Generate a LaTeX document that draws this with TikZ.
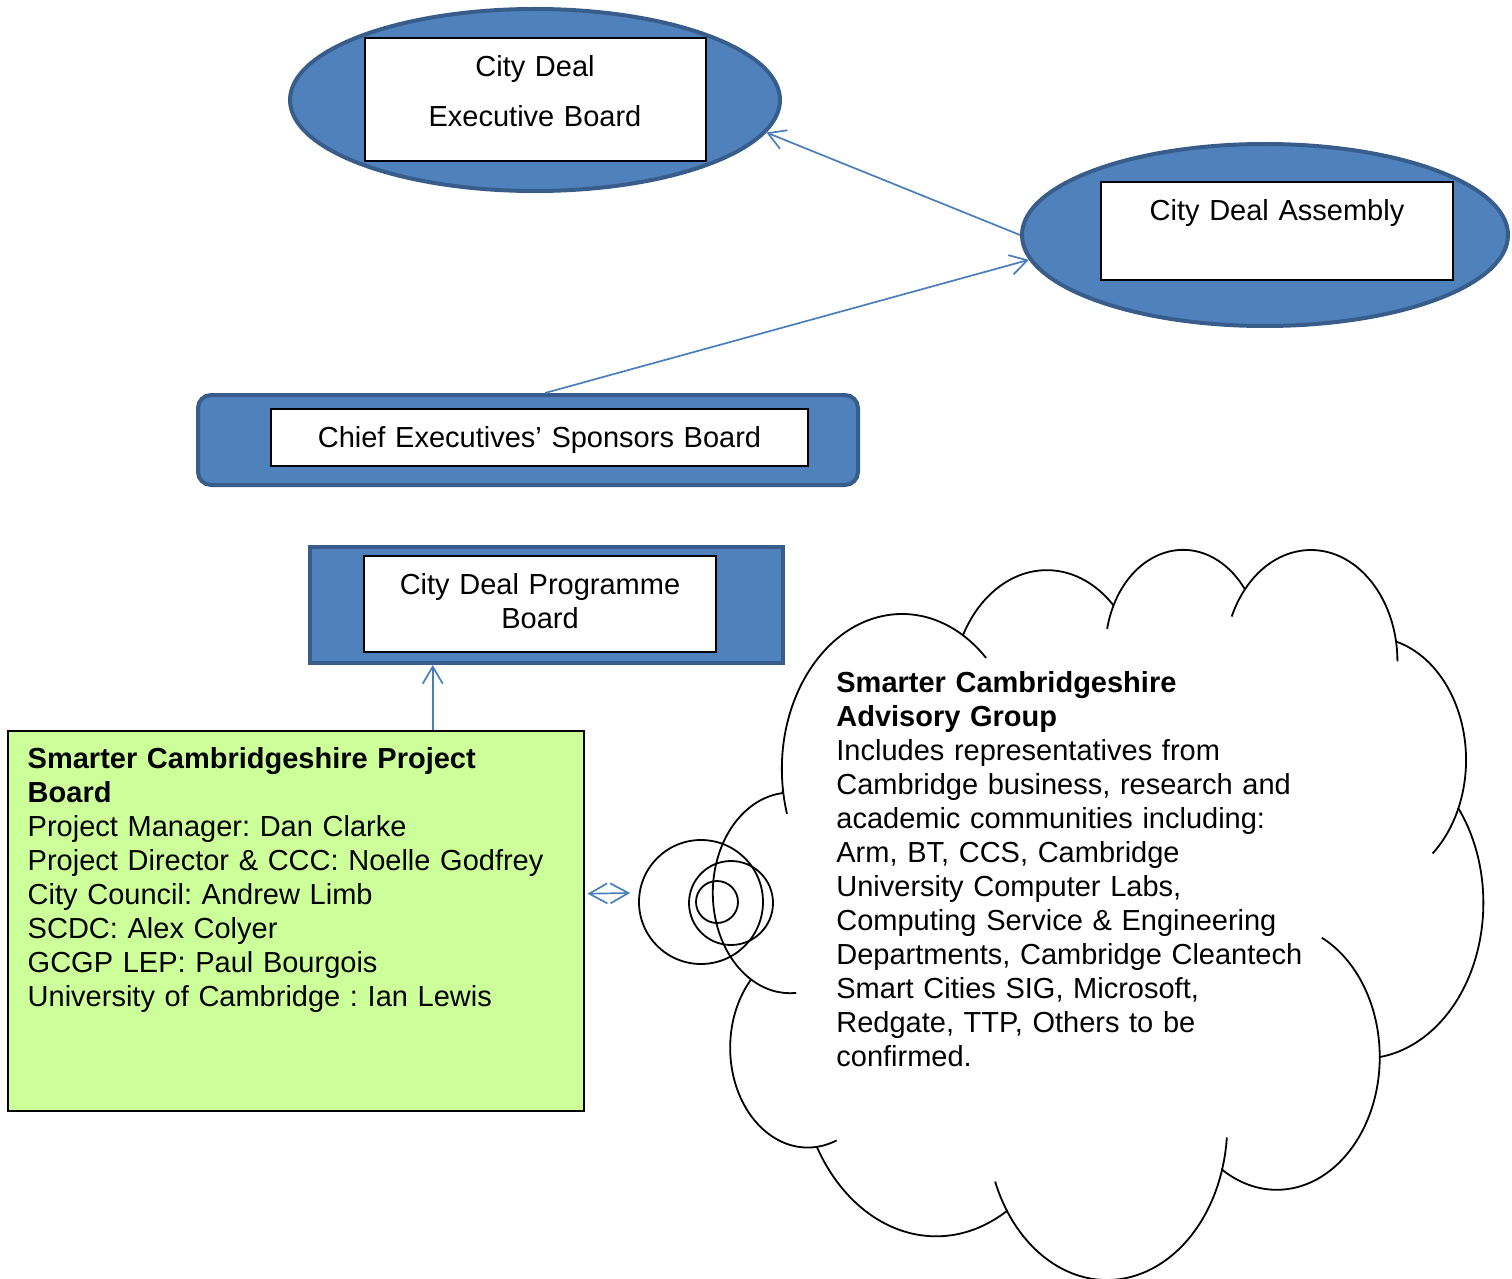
\documentclass[tikz,border=0pt]{standalone}
\usepackage{fontspec}
\setmainfont{Liberation Sans}
\usetikzlibrary{shapes.geometric,arrows.meta,positioning}

\definecolor{boardblue}{RGB}{79,129,189}
\definecolor{boardedge}{RGB}{56,93,138}
\definecolor{linkblue}{RGB}{74,126,187}
\definecolor{projgreen}{RGB}{204,255,153}

\frenchspacing

\begin{document}
\begin{tikzpicture}[x=0.5pt,y=-0.5pt,
  font=\fontsize{14.5}{17}\selectfont,
  declare function={vis(\t,\a,\b)=atan2(sin(\t)/\b,cos(\t)/\a);},
  bluebox/.style={fill=boardblue,draw=boardedge,line width=2pt},
  whitebox/.style={fill=white,draw=black,line width=1pt,inner sep=0pt,align=center},
  link/.style={draw=linkblue,line width=0.85pt,-{Straight Barb[length=8.5pt,width=10pt]}},
  bubble/.style={circle,draw,line width=0.9pt,inner sep=0pt},
  puff/.style={line width=0.9pt},
  lobe/.style n args={4}{x radius=#1,y radius=#2,
    start angle={vis(#3,#1,#2)},
    end angle={vis(#3,#1,#2)+ifthenelse(#4>0,1,-1)*mod(ifthenelse(#4>0,1,-1)*(vis(#3+#4,#1,#2)-vis(#3,#1,#2))+720,360)}}]
  \useasboundingbox (0,0) rectangle (1512,1279);

  % boards
  \node[bluebox,ellipse,minimum width=245pt,minimum height=91pt] (cdeb) at (535,100) {};
  \node[whitebox,text width=170.5pt,text height=19pt,text depth=42.5pt] (cdebbox) at (cdeb)
    {City Deal\\[8pt]Executive Board};

  \node[bluebox,ellipse,minimum width=243pt,minimum height=91pt] (cda) at (1265,235) {};
  \node[whitebox,text width=176pt,text height=19.25pt,text depth=29.75pt] (cdabox) at ([xshift=6pt,yshift=2pt]cda)
    {City Deal Assembly};

  \node[bluebox,rounded corners=6.5pt,minimum width=330pt,minimum height=45pt] (ceosb) at (528,440) {};
  \node[whitebox,text width=268.5pt,text height=19.25pt,text depth=9.25pt] (ceosbbox) at ([xshift=5.75pt,yshift=1.25pt]ceosb)
    {Chief Executives’ Sponsors Board};

  \node[bluebox,minimum width=236.5pt,minimum height=58pt,below=29pt of ceosb,xshift=9.25pt] (cdpb) {};
  \node[whitebox,text width=176pt,text height=19.25pt,text depth=28.75pt] (cdpbbox) at ([xshift=-3.25pt,yshift=0.5pt]cdpb)
    {City Deal Programme\\Board};

  % project board
  \node[draw,fill=projgreen,line width=0.75pt,anchor=north west,inner xsep=10pt,inner ysep=0pt,
        text width=268pt,align=left,text height=18.75pt,text depth=171.25pt] (scpb) at (7,730)
    {\textbf{Smarter Cambridgeshire Project}\\
     \textbf{Board}\\
     Project Manager: Dan Clarke\\
     Project Director \& CCC: Noelle Godfrey\\
     City Council: Andrew Limb\\
     SCDC: Alex Colyer\\
     GCGP LEP: Paul Bourgois\\
     University of Cambridge : Ian Lewis};

  % advisory group cloud
  \node[bubble,minimum size=62pt] (bub1) at (701,902) {};
  \node[bubble,minimum size=42pt] (bub2) at (731,903) {};
  \node[bubble,minimum size=21pt] (bub3) at (717,902) {};

  \begin{scope}[shift={(713.5,547.5)},x=0.890625pt,y=-0.843634pt]
    \draw[puff] (39,143.7) coordinate (j0)
      arc[lobe={67.53}{91.90}{-190.4875}{123.7805}] coordinate (j1)
      arc[lobe={53.33}{72.67}{-144.1024}{89.9452}] coordinate (j2)
      arc[lobe={43.65}{59.45}{-145.8079}{99.7230}] coordinate (j3)
      arc[lobe={48.57}{65.95}{-130.9861}{117.2417}] coordinate (j4)
      arc[lobe={53.33}{72.73}{-78.7089}{109.0269}] coordinate (j5)
      arc[lobe={67.75}{92.20}{-46.2673}{130.2690}] coordinate (j6)
      arc[lobe={57.85}{78.67}{0.6250}{114.0333}] coordinate (j7)
      arc[lobe={67.52}{92.15}{22.4516}{115.1726}] coordinate (j8)
      arc[lobe={77.20}{105.43}{66.2426}{75.7110}] coordinate (j9)
      arc[lobe={43.60}{59.18}{-274.9421}{146.7356}] coordinate (j10)
      arc[lobe={43.45}{59.45}{-246.8285}{152.5189}] -- cycle;
    % inner curls
    \draw[puff] (j0) arc[lobe={67.53}{91.90}{-190.4875}{-11.8582}];
    \draw[puff] (j1) arc[lobe={67.53}{91.90}{-66.7070}{12.3194}];
    \draw[puff] (j2) arc[lobe={43.65}{59.45}{-145.8079}{-17.6864}];
    \draw[puff] (j3) arc[lobe={48.57}{65.95}{-130.9861}{-18.1954}];
    \draw[puff] (j4) arc[lobe={48.57}{65.95}{-13.7444}{14.8590}];
    \draw[puff] (j5) arc[lobe={53.33}{72.73}{30.3180}{27.7515}];
    \draw[puff] (j6) arc[lobe={57.85}{78.67}{0.6250}{-70.9174}];
    \draw[puff] (j7) arc[lobe={67.52}{92.15}{22.4516}{-15.9984}];
    \draw[puff] (j8) arc[lobe={67.52}{92.15}{137.6242}{14.0811}];
    \draw[puff] (j9) arc[lobe={43.60}{59.18}{85.0579}{-11.4475}];
    \draw[puff] (j10) arc[lobe={43.45}{59.45}{113.1715}{-26.4295}];
  \end{scope}

  \node[anchor=base west,inner sep=0pt,text width=250pt,align=left] (scag) at (836,692.5)
    {\textbf{Smarter Cambridgeshire}\\
     \textbf{Advisory Group}\\
     Includes representatives from\\
     Cambridge business, research and\\
     academic communities including:\\
     Arm, BT, CCS, Cambridge\\
     University Computer Labs,\\
     Computing Service \& Engineering\\
     Departments, Cambridge Cleantech\\
     Smart Cities SIG, Microsoft,\\
     Redgate, TTP, Others to be\\
     confirmed.};

  % links
  \draw[link] (cda.west) -- (cdeb.-8);
  \draw[link] ([xshift=8.5pt]ceosb.north) -- (cda.186);
  \draw[link] ([xshift=68.5pt]scpb.north) -- ([xshift=68.5pt]scpb.north |- cdpb.south);
  \draw[link,{Straight Barb[length=9pt,width=10pt]}-{Straight Barb[length=9pt,width=10pt]}]
    ([shift={(1.5pt,13.5pt)}]scpb.east) -- ([shift={(-4pt,4.5pt)}]bub1.west);
\end{tikzpicture}
\end{document}
